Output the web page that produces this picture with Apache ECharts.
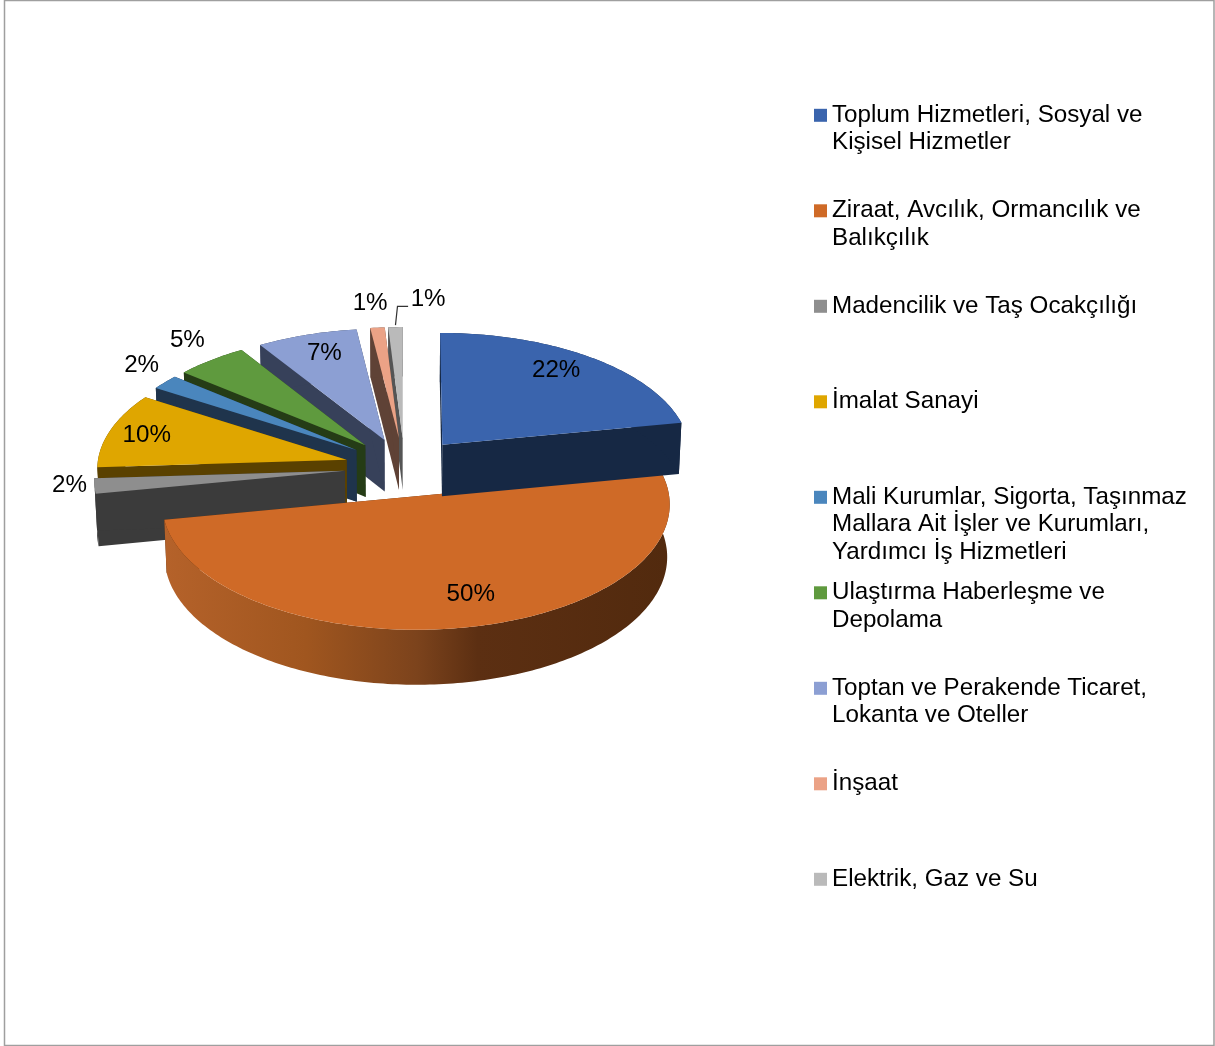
<!DOCTYPE html>
<html>
<head>
<meta charset="utf-8">
<title>Pie</title>
<script src="https://cdn.jsdelivr.net/npm/echarts@6/dist/echarts.min.js"></script>
<style>
  html, body { margin: 0; background: #fff; }
  #main { width: 1215px; height: 1046px; }
</style>
</head>
<body>
<div id="main"></div>
<script>
// values (percent shares, clockwise from 12 o'clock)
var categories = [
  'Toplum Hizmetleri, Sosyal ve\nKişisel Hizmetler',
  'Ziraat, Avcılık, Ormancılık ve\nBalıkçılık',
  'Madencilik ve Taş Ocakçılığı',
  'İmalat Sanayi',
  'Mali Kurumlar, Sigorta, Taşınmaz\nMallara Ait İşler ve Kurumları,\nYardımcı İş Hizmetleri',
  'Ulaştırma Haberleşme ve\nDepolama',
  'Toptan ve Perakende Ticaret,\nLokanta ve Oteller',
  'İnşaat',
  'Elektrik, Gaz ve Su'
];
var shares = [22, 50, 2, 10, 2, 5, 7, 1, 1];

// styling
var topColors = ['#3a64ad', '#cf6a27', '#8e8e8e', '#dfa600', '#4a86bd', '#5f9a3e', '#8c9fd3', '#eba286', '#bababa'];
var sideColors = ['#162844', '#532b0f', '#3b3b3b', '#5a4100', '#1f344c', '#253c16', '#37415a', '#5f4236', '#555555'];
// label placement relative to the slice tip: angle shift (deg), distance in px before projection
var labelShift = [-2.7, -4.4, 1.0, -0.5, 2.9, 1.8, 1.1, -0.5, 6.8];
var labelReach = [202, 194, 274, 210, 294, 302, 202, 310, 318];
// back to front
var drawOrder = [8, 7, 6, 5, 4, 3, 2, 1, 0];

// 3d view of the pie
var cx = 404.5, cy = 467, radius = 249.5, explode = 60, depth = 52;
var tilt = 0.487, persp = 0.00025, perspZ = 0.00018;

var fontName = '"Liberation Sans", Arial, sans-serif';
var fontSize = 24.2, lineH = 27.5;

function project(X, Y, Z) {
  var s = 1 / (1 + persp * Y);
  var sx = 1 / (1 + persp * Y - perspZ * Z);
  // nearer parts of the wall look a bit taller
  return [cx + X * sx, cy - tilt * Y * s - Z * Math.pow(s, 0.7)];
}

var total = shares.reduce(function (a, b) { return a + b; }, 0);
var startAngles = [];
shares.reduce(function (acc, v, i) { startAngles[i] = acc; return acc + v; }, 0);

function rad(d) { return d * Math.PI / 180; }

function renderSlice(params, api) {
  var i = api.value(0);
  var a0 = startAngles[i] / total * 360;
  var a1 = a0 + api.value(1) / total * 360;
  var mid = (a0 + a1) / 2;
  var ex = explode * Math.sin(rad(mid)), ey = explode * Math.cos(rad(mid));

  function rim(a, z, r) {
    var rr = r === undefined ? radius : r;
    return project(ex + rr * Math.sin(rad(a)), ey + rr * Math.cos(rad(a)), z);
  }

  var arcTop = [], arcBottom = [];
  var steps = Math.max(4, Math.ceil(a1 - a0));
  for (var n = 0; n <= steps; n++) {
    var a = a0 + (a1 - a0) * n / steps;
    arcTop.push(rim(a, 0));
    arcBottom.push(rim(a, -depth));
  }
  var tip = project(ex, ey, 0), tipLow = project(ex, ey, -depth);
  var side = sideColors[i];
  var wallFill = side;
  if (i === 1) {
    wallFill = new echarts.graphic.LinearGradient(0, 0, 1, 0, [
      { offset: 0, color: '#b5622a' },
      { offset: 0.28, color: '#a0561f' },
      { offset: 0.5, color: '#7c431c' },
      { offset: 0.62, color: '#5c2f12' },
      { offset: 1, color: '#522a0e' }
    ]);
  }

  var kids = [
    { type: 'polygon', shape: { points: [tip, arcTop[0], arcBottom[0], tipLow] }, style: { fill: side } },
    { type: 'polygon', shape: { points: [tip, arcTop[steps], arcBottom[steps], tipLow] }, style: { fill: side } },
    { type: 'polygon', shape: { points: arcTop.concat(arcBottom.slice().reverse()) }, style: { fill: wallFill } },
    { type: 'polygon', shape: { points: [tip].concat(arcTop) }, style: { fill: topColors[i] } }
  ];

  var lp = rim(mid + labelShift[i], 0, labelReach[i]);
  // the last slice's label sits off to the side and gets a leader line
  if (i === shares.length - 1) {
    var from = rim(mid, 0);
    kids.push({
      type: 'polyline',
      shape: { points: [[from[0], from[1] - 2], [from[0] + 2, lp[1] + 7], [lp[0] - 20, lp[1] + 7]] },
      style: { fill: 'none', stroke: '#333333', lineWidth: 1.2 }
    });
  }
  kids.push({
    type: 'text',
    style: {
      text: api.value(1) + '%', x: lp[0], y: lp[1],
      align: 'center', verticalAlign: 'middle',
      fill: '#000', font: fontSize + 'px ' + fontName
    }
  });
  return { type: 'group', children: kids };
}

var series = drawOrder.map(function (i) {
  return {
    type: 'custom',
    name: categories[i],
    coordinateSystem: 'none',
    silent: true,
    clip: false,
    itemStyle: { color: topColors[i] },
    data: [[i, shares[i]]],
    renderItem: renderSlice
  };
});

// every legend text gets the same 9 line block with its first line in the middle,
// so the rows keep one pitch and the marker sits on the first line
var legendLines = 9, legendPitch = 95.5;
function legendText(name) {
  var n = name.split('\n').length;
  var before = new Array(5).join('\n');
  var after = new Array(5 - n + 1).join('\n');
  return before + name + after;
}

var chart = echarts.init(document.getElementById('main'), null, { renderer: 'canvas' });
chart.setOption({
  animation: false,
  backgroundColor: '#fff',
  legend: {
    orient: 'vertical',
    left: 814,
    top: 115.3 - legendLines * lineH / 2,
    padding: 0,
    itemWidth: 13,
    itemHeight: 13,
    itemGap: legendPitch - legendLines * lineH,
    icon: 'rect',
    selectedMode: false,
    formatter: legendText,
    textStyle: { color: '#000', fontFamily: fontName, fontSize: fontSize, lineHeight: lineH },
    data: categories
  },
  graphic: [{
    type: 'rect',
    z: -1,
    silent: true,
    shape: { x: 4.5, y: 0.5, width: 1209.5, height: 1045 },
    style: { fill: 'none', stroke: '#9f9f9f', lineWidth: 1.5 }
  }],
  series: series
});
</script>
</body>
</html>
